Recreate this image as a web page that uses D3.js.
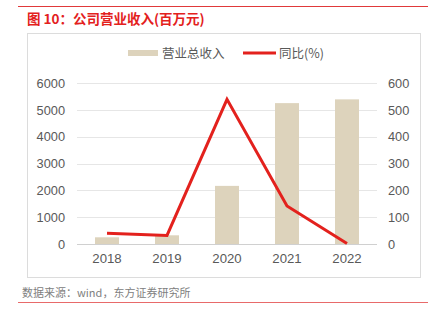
<!DOCTYPE html>
<html><head><meta charset="utf-8">
<script src="https://cdn.jsdelivr.net/npm/d3@7"></script>
<style>body{margin:0;background:#fff}svg{display:block}text{font-family:"Noto Sans CJK SC","Liberation Sans",sans-serif}</style>
</head><body><div id="c"></div>
<script>
const categories = ["2018","2019","2020","2021","2022"];
const revenue = [250, 325, 2170, 5260, 5400];
const growth = [40, 32, 540, 142, 2];
const leftTicks = [0,1000,2000,3000,4000,5000,6000];
const rightTicks = [0,100,200,300,400,500,600];

const W=435,H=324;
const svg=d3.select("#c").append("svg").attr("width",W).attr("height",H);
const red="#e3211d", barC="#ddd3bc", txt="#595959";

svg.append("line").attr("x1",18).attr("x2",428).attr("y1",6.5).attr("y2",6.5).attr("stroke","#e0393a").attr("stroke-width",1);
svg.append("text").attr("x",27).attr("y",24).attr("fill",red).attr("font-size",13.5).attr("font-weight","bold").text("图 10：公司营业收入(百万元)");
svg.append("rect").attr("x",27.5).attr("y",33.5).attr("width",393).attr("height",244).attr("fill","none").attr("stroke","#dcdcdc");

const x=d3.scaleBand().domain(categories).range([77,377]).paddingInner(0.6).paddingOuter(0.3);
const yL=d3.scaleLinear().domain([0,6000]).range([244,83.3]);
const yR=d3.scaleLinear().domain([0,600]).range([244,83.3]);

svg.append("g").selectAll("line").data(leftTicks).join("line")
 .attr("x1",77).attr("x2",377).attr("y1",d=>Math.round(yL(d))+0.5).attr("y2",d=>Math.round(yL(d))+0.5)
 .attr("stroke",d=>d===0?"#d0d0d0":"#e6e6e6").attr("stroke-width",1);

const axL=svg.append("g").attr("transform","translate(77,0)").call(d3.axisLeft(yL).tickValues(leftTicks).tickFormat(d3.format("d")).tickSize(0).tickPadding(12));
const axR=svg.append("g").attr("transform","translate(377,0)").call(d3.axisRight(yR).tickValues(rightTicks).tickFormat(d3.format("d")).tickSize(0).tickPadding(11));
const axB=svg.append("g").attr("transform","translate(0,244)").call(d3.axisBottom(x).tickSize(0).tickPadding(10));
[axL,axR,axB].forEach(a=>{a.select(".domain").remove();a.selectAll("text").attr("fill",txt).attr("font-size",12.8).style("font-family","'Liberation Sans',Arial,sans-serif");});
axB.selectAll("text").attr("font-size",13.2);

svg.append("g").selectAll("rect").data(revenue).join("rect")
 .attr("x",(d,i)=>x(categories[i])).attr("width",x.bandwidth())
 .attr("y",d=>yL(d)).attr("height",d=>244-yL(d)).attr("fill",barC);

const line=d3.line().x((d,i)=>x(categories[i])+x.bandwidth()/2).y(d=>yR(d));
svg.append("path").datum(growth).attr("d",line).attr("fill","none").attr("stroke",red).attr("stroke-width",3).attr("stroke-linejoin","miter");

svg.append("rect").attr("x",128).attr("y",50).attr("width",30).attr("height",6).attr("fill",barC);
svg.append("text").attr("x",162).attr("y",58).attr("fill",txt).attr("font-size",12.5).text("营业总收入");
svg.append("line").attr("x1",243).attr("x2",276).attr("y1",53).attr("y2",53).attr("stroke",red).attr("stroke-width",3);
svg.append("text").attr("x",279).attr("y",58).attr("fill",txt).attr("font-size",12.5).text("同比(%)");

svg.append("text").attr("x",22).attr("y",297).attr("fill","#808080").attr("font-size",11).text("数据来源：wind，东方证券研究所");
svg.append("line").attr("x1",18).attr("x2",428).attr("y1",302.5).attr("y2",302.5).attr("stroke","#e86a6a").attr("stroke-width",1);
</script></body></html>
